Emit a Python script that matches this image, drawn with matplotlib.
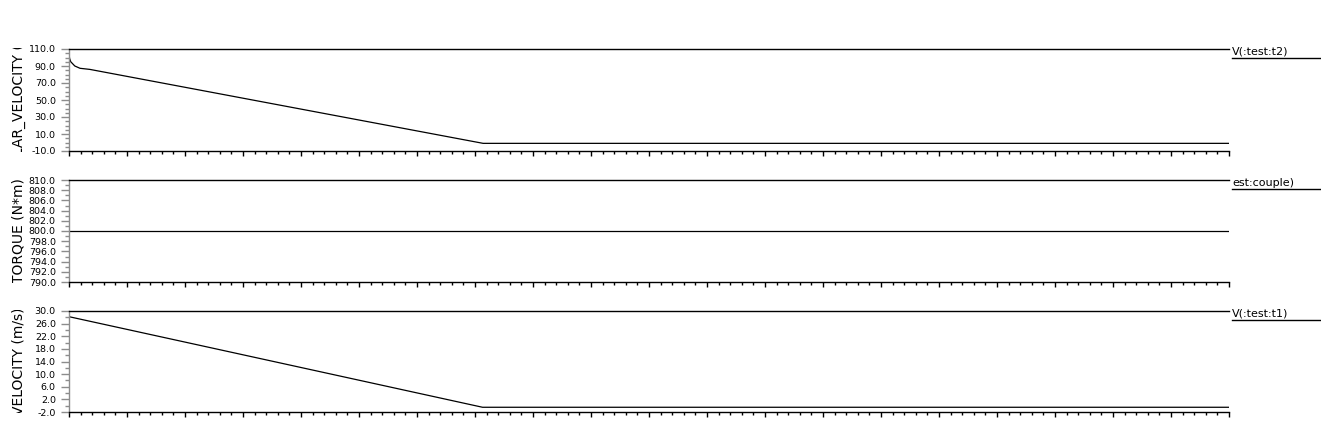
import numpy as np
import matplotlib
matplotlib.use('Agg')
import matplotlib.pyplot as plt
from matplotlib.ticker import MultipleLocator, FormatStrFormatter
from matplotlib.lines import Line2D
from matplotlib.transforms import Bbox, TransformedBbox

################################################################
############################ Data ##############################
################################################################

# angular velocity, V(:test:t2)
time_t2 = [0.0, 0.01, 0.03, 0.10, 0.19, 0.36, 7.14, 20.0]
omega_t2 = [104.0, 99.0, 95.0, 90.0, 87.3, 86.0, -1.0, -1.0]

# torque, est:couple)
time_couple = [0.0, 20.0]
torque_couple = [800.0, 800.0]

# velocity, V(:test:t1)
time_t1 = [0.0, 7.13, 20.0]
speed_t1 = [28.2, -0.5, -0.5]

ylabels = ['ANGULAR_VELOCITY (rad/s)', 'TORQUE (N*m)', 'VELOCITY (m/s)']
traces = ['V(:test:t2)', 'est:couple)', 'V(:test:t1)']
ylims = [(-10, 110), (790, 810), (-2, 30)]
ysteps = [(20, 5), (2, 1), (4, 2)]

################################################################
######################### Functions ############################
################################################################

W, H = 1321, 428
LEFT, RIGHT = 69, 1229
PANELS = [(49, 151), (180, 282), (311, 412)]   # top, bottom in pixels
GRAY = '#8c8c8c'


def Panel(fig, top, bottom):
    ax = fig.add_axes([LEFT / W, 1 - bottom / H, (RIGHT - LEFT) / W, (bottom - top) / H])
    ax.spines['right'].set_visible(False)
    ax.spines['left'].set_color(GRAY)
    ax.spines['top'].set_color('black')
    ax.spines['bottom'].set_color('black')
    for s in ['left', 'top', 'bottom']:
        ax.spines[s].set_linewidth(1.0)
    ax.set_xlim(0, 20)
    ax.xaxis.set_major_locator(MultipleLocator(1))
    ax.xaxis.set_minor_locator(MultipleLocator(0.2))
    ax.tick_params(axis='x', which='major', direction='out', length=3.5, width=1,
                   color='black', labelbottom=False)
    ax.tick_params(axis='x', which='minor', direction='out', length=1.8, width=1,
                   color='black')
    ax.tick_params(axis='y', which='major', direction='out', length=6, width=1,
                   color=GRAY, labelsize=6.8, pad=3.5, labelcolor='black')
    ax.tick_params(axis='y', which='minor', direction='out', length=3, width=1,
                   color=GRAY)
    ax.yaxis.set_major_formatter(FormatStrFormatter('%.1f'))
    return ax


def Label(fig, text, top, bottom):
    # clipped y label, like the waveform viewer
    t = fig.text(19 / W, 1 - (top + bottom) / 2 / H, text, rotation=90,
                 ha='center', va='center', fontsize=10, family='DejaVu Sans')
    box = Bbox([[0, 1 - (bottom + 1) / H], [LEFT / W, 1 - (top - 1) / H]])
    t.set_clip_box(TransformedBbox(box, fig.transFigure))
    t.set_clip_on(True)
    return t


def Trace(fig, text, top):
    fig.text(1232 / W, 1 - (top - 2) / H, text, ha='left', va='top',
             fontsize=8, family='DejaVu Sans')
    fig.add_artist(Line2D([1232 / W, 1320 / W], [1 - (top + 9) / H] * 2,
                          color='black', lw=1.0, transform=fig.transFigure))


################################################################
############################ Plot ##############################
################################################################

fig = plt.figure(figsize=(W / 100, H / 100), dpi=100)
fig.patch.set_facecolor('white')

series = [(time_t2, omega_t2), (time_couple, torque_couple), (time_t1, speed_t1)]

for i, (top, bottom) in enumerate(PANELS):
    ax = Panel(fig, top, bottom)
    X, Y = series[i]
    ax.plot(X, Y, '-k', linewidth=0.9)
    lo, hi = ylims[i]
    major, minor = ysteps[i]
    ax.set_ylim(lo, hi)
    ax.set_yticks(np.arange(lo, hi + major / 2, major))
    ax.set_yticks(np.arange(lo, hi + minor / 2, minor), minor=True)
    Label(fig, ylabels[i], top, bottom)
    Trace(fig, traces[i], top)

plt.savefig('out.png', dpi=100)
